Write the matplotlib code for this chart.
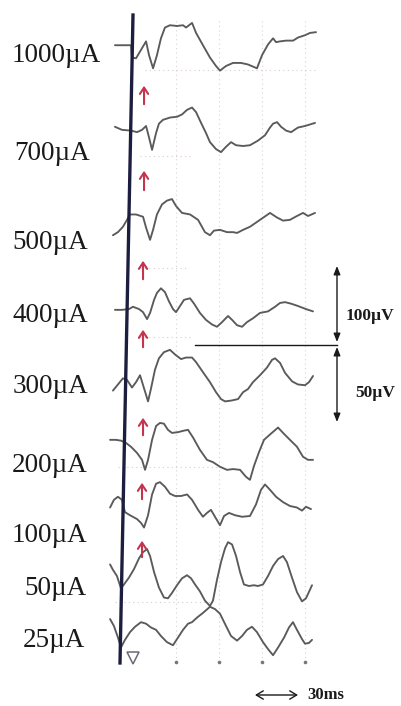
import matplotlib
matplotlib.use("Agg")
import matplotlib.pyplot as plt

# ---------------- data ----------------
labels = ["1000µA", "700µA", "500µA", "400µA", "300µA", "200µA", "100µA", "50µA", "25µA"]
offsets = [859, 749, 632, 516, 417, 346, 255, 157, 86]  # µV, stacking baselines

t1 = [-12.6,-1.4,-0.7,2.1,5.6,9.1,11.2,14,16.7,19.5,22.3,25.8,30.7,34.9,37,39.8,41.2,44,48.8,53.7,57.9,60.7,64.9,69.8,75.3,80.2,86.5,90,94.2,97.7,99.8,102.6,106.8,111.7,115.1,120,123.5,127.7]
v1 = [0,0,-16,-17,-6,5,-13,-30,-13,9,23,26,25,26,23,27,29,16,0,-16,-27,-33,-27,-23,-23,-25,-30,-13,1,9,4,5,6,6,10,13,16,17]

t2 = [-12.6,-7.7,-1.4,2.8,6.3,9.1,11.2,13.3,16.1,18.1,20.9,25.8,30.7,34.2,37.7,41.2,44,47.5,50.9,53.7,57.9,61.4,64.9,68.4,71.9,76.8,81.6,87.2,92.1,95.6,97.7,100.5,103.3,106.8,110.3,115.1,120,127]
v2 = [4,0,-1,-3,0,5,-10,-26,-4,8,13,16,17,20,26,29,23,9,-4,-16,-25,-29,-22,-16,-20,-21,-20,-14,-7,3,8,10,4,-1,-3,3,5,9]

t3 = [-14,-10.5,-7,-4.2,-2.1,2.1,7,9.1,11.9,14,16.7,20.2,23.7,27.2,30,34.2,39.8,45.4,50.2,53.7,56.5,60.7,65.6,69.8,72.6,76.8,81.6,88.6,95.6,100.5,104.7,109.5,114.4,118.6,122.1,127]
v3 = [-20,-16,-9,0,7,7,4,-10,-26,-13,7,20,25,27,18,9,7,0,-16,-20,-14,-13,-16,-16,-17,-13,-9,0,9,3,-1,0,5,9,5,9]

t4 = [-12.6,-7.7,-2.8,0,4.2,7,9.8,11.9,14.7,16.7,19.5,22.3,25.1,27.9,30,32.8,35.6,39.8,42.6,46.7,50.9,55.1,58.6,62.1,66.3,69.1,72.6,76.1,79.5,83.7,88.6,94.2,99.1,102.6,106.1,110.3,115.1,120.7,125.6]
v4 = [-1,-1,0,3,0,-4,-13,-5,12,21,27,22,10,0,-4,4,12,14,7,-5,-14,-20,-23,-17,-9,-14,-21,-23,-17,-12,-5,-3,3,8,9,7,4,0,-3]

t5 = [-14,-10.5,-7,-4.2,-0.7,2.1,4.9,7.7,10.5,12.6,15.3,18.1,21.6,25.8,29.3,33.5,37,41.2,44,48.8,53.7,57.9,61.4,64.2,68.4,73.3,76.8,80.2,83.7,88.6,93.5,97,99.1,102.6,106.1,111,115.1,120,122.8,125.6]
v5 = [-7,1,9,7,-3,4,13,-4,-21,-4,20,35,43,46,40,34,36,36,30,17,4,-9,-18,-21,-20,-18,-9,-5,4,13,23,33,35,29,16,5,1,0,4,12]

t6 = [-16,-11.9,-8.4,-4.9,-1.4,2.8,6.3,8.4,10.5,13.3,16.1,18.8,21.6,24.4,27.2,31.4,35.6,38.4,41.9,46.7,51.6,55.8,60.7,65.6,69.8,74.7,78.8,81.6,84.4,87.9,91.4,95.6,101.2,104.7,109.5,114.4,118.6,122.1,125.6]
v6 = [0,0,-1,-4,-9,-17,-26,-39,-26,0,18,22,21,13,9,10,12,13,3,-13,-26,-29,-35,-39,-38,-39,-48,-52,-34,-16,0,7,16,9,0,-9,-22,-26,-26]

t7 = [-16,-13.3,-10.5,-7.7,-5.6,-2.1,2.8,5.6,7.7,10.5,13.3,16.1,18.8,22.3,25.8,29.3,33.5,37.7,41.2,45.4,48.8,51.6,54.4,57.2,60.7,63.5,67,71.2,76.1,81.6,85.8,89.3,92.1,95.6,99.8,104.7,109.5,114.4,117.9,120.7,124.2]
v7 = [3,13,17,13,-3,-7,-12,-17,-23,-7,20,34,36,30,21,18,18,20,13,0,-9,-4,0,-9,-20,-8,-4,-7,-9,-8,7,26,33,26,17,10,5,3,-1,4,1]

t8 = [-16,-14,-11.2,-8.4,-6.3,-2.8,0.7,4.2,7,9.8,11.9,14.7,18.1,21.6,24.4,27.2,30.7,34.2,37.7,40.5,43.3,46.7,50.2,53.7,55.8,58.6,61.4,64.2,66.3,69.1,71.9,74.7,77.4,80.9,84.4,87.2,90.7,94.2,97.7,101.2,104.7,107.4,110.9,114.4,117.9,120.7,124.9]
v8 = [27,20,12,-4,1,10,21,35,43,47,38,17,-3,-16,-17,-10,0,9,13,9,1,-8,-20,-27,-20,7,30,48,56,53,38,17,1,-1,0,-1,1,12,25,34,38,30,10,-9,-21,-17,0]

t9 = [-16,-13.3,-10.5,-8.4,-5.6,-2.1,1.4,5.6,9.1,12.6,16.1,19.5,23.7,27.9,31.4,34.9,38.4,41.2,44.7,48.8,53.7,57.2,60.7,64.9,68.4,72.6,76.1,79.5,83,86.5,90.7,94.2,97.7,101.2,105.4,108.8,111.6,114.4,117.9,120,122.8,124.9]
v9 = [27,18,3,-10,0,10,17,23,21,16,13,5,-3,-7,3,13,21,23,29,35,43,40,34,18,5,-1,5,13,17,10,-3,-12,-20,-10,3,16,23,13,1,-5,-4,0]

times = [t1, t2, t3, t4, t5, t6, t7, t8, t9]
amps = [v1, v2, v3, v4, v5, v6, v7, v8, v9]

grid_ms = [30, 60, 90, 120]
arrow_ms = [7.7, 7.7, 7.0, 7.0, 7.0, 6.3, 6.3]   # marked response onset
scale_time_ms = 30
scale_labels = ["100µV", "50µV"]

# ---------------- figure ----------------
W, H = 401, 706
fig = plt.figure(figsize=(W / 100, H / 100), dpi=100)
ax = fig.add_axes([0, 0, 1, 1])
MS_PER_PX = 30 / 43
UV_PER_PX = 1.3
X0 = 133
ax.set_xlim(-X0 * MS_PER_PX, (W - X0) * MS_PER_PX)
ax.set_ylim(0, H * UV_PER_PX)
ax.axis("off")

def py2y(py):
    return (H - py) * UV_PER_PX

def px2x(px):
    return (px - X0) * MS_PER_PX

# faint dotted grid
for g in grid_ms:
    ax.plot([g, g], [py2y(662), py2y(20)], color="#d9d2d6", lw=0.8, ls=(0, (1, 3)), zorder=1)
for py, a, b in [(70, 145, 315), (156, 140, 190), (268, 140, 188), (337, 140, 190),
                 (467, 118, 222), (602, 115, 212)]:
    ax.plot([px2x(a), px2x(b)], [py2y(py), py2y(py)], color="#d9c9d0", lw=0.8,
            ls=(0, (1, 3)), zorder=1)

# traces
for t, v, off in zip(times, amps, offsets):
    ax.plot(t, [off + a for a in v], color="#5a5a5a", lw=1.35, zorder=3,
            solid_joinstyle="round", solid_capstyle="round")

# stimulus line
ax.plot([px2x(133), px2x(120)], [py2y(15), py2y(663)], color="#1d1d3f", lw=2.4, zorder=4)

# red arrows
arrow_py = [(107, 83), (193, 168), (282, 258), (350, 327), (438, 415), (502, 480), (560, 538)]
for tm, (pb, pt) in zip(arrow_ms, arrow_py):
    ax.annotate("", xy=(tm, py2y(pt)), xytext=(tm, py2y(pb)),
                arrowprops=dict(arrowstyle="->,head_length=0.45,head_width=0.3",
                                color="#c4344f", lw=1.5), zorder=5)

# bottom tick dots and stimulus triangle
ax.plot(grid_ms, [py2y(662)] * len(grid_ms), ls="none", marker="o", ms=1.6,
        color="#777777", zorder=3)
ax.plot([0], [py2y(658)], marker="v", ms=8, mfc="white", mec="#6a6a7a", mew=1.1, zorder=5)

# labels
label_pos = [(101, 62), (90, 160), (88, 249), (88, 322), (88, 393), (88, 472),
             (87, 542), (87, 595), (85, 647)]
for lab, (px, py) in zip(labels, label_pos):
    ax.text(px2x(px), py2y(py), lab, ha="right", va="baseline",
            family=["Liberation Serif", "DejaVu Serif"], fontsize=19.5, color="#1a1a1a")

# vertical scale bars
sx = px2x(337)
ax.annotate("", xy=(sx, py2y(266)), xytext=(sx, py2y(342)),
            arrowprops=dict(arrowstyle="<|-|>,head_length=0.5,head_width=0.2",
                            color="#1a1a1a", lw=1.0, shrinkA=0, shrinkB=0))
ax.annotate("", xy=(sx, py2y(347)), xytext=(sx, py2y(422)),
            arrowprops=dict(arrowstyle="<|-|>,head_length=0.5,head_width=0.2",
                            color="#1a1a1a", lw=1.0, shrinkA=0, shrinkB=0))
ax.plot([px2x(195), sx], [py2y(345), py2y(345)], color="#1a1a1a", lw=1.0)
ax.text(px2x(346), py2y(320), scale_labels[0], ha="left", va="baseline",
        family=["Liberation Serif", "DejaVu Serif"], fontweight="bold", fontsize=12.5,
        color="#1a1a1a")
ax.text(px2x(355), py2y(397), scale_labels[1], ha="left", va="baseline",
        family=["Liberation Serif", "DejaVu Serif"], fontweight="bold", fontsize=12.5,
        color="#1a1a1a")

# time scale
ts0 = px2x(255)
ax.annotate("", xy=(ts0, py2y(695)), xytext=(ts0 + scale_time_ms, py2y(695)),
            arrowprops=dict(arrowstyle="<->,head_length=0.5,head_width=0.3",
                            color="#1a1a1a", lw=1.0, shrinkA=0, shrinkB=0))
ax.text(px2x(307), py2y(695), f"{scale_time_ms}ms", ha="left", va="center",
        family=["Liberation Serif", "DejaVu Serif"], fontweight="bold", fontsize=12,
        color="#1a1a1a")

fig.savefig("out.png", dpi=100, facecolor="white")
